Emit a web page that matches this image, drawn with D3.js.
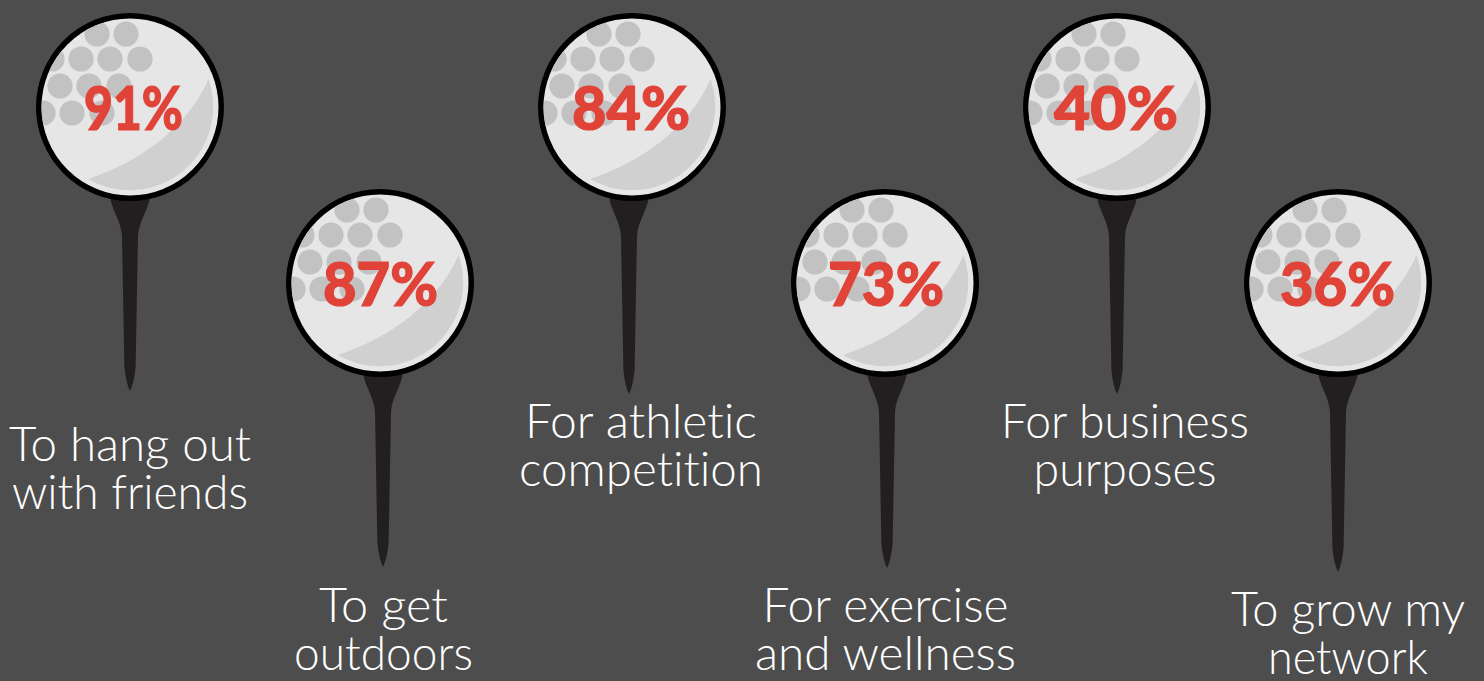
<!DOCTYPE html>
<html>
<head>
<meta charset="utf-8">
<script src="https://cdn.jsdelivr.net/npm/d3@7/dist/d3.min.js"></script>
<style>
  html, body { margin: 0; padding: 0; background: #4d4d4d; overflow: hidden; }
  svg { display: block; }
  text { font-variant-ligatures: none; }
</style>
</head>
<body>
<svg id="chart" width="1484" height="681"></svg>
<script>
// Reasons for playing golf, one tee per reason
const reasons = [
  "To hang out with friends", "To get outdoors", "For athletic competition",
  "For exercise and wellness", "For business purposes", "To grow my network"
];
const shares = [91, 87, 84, 73, 40, 36];
const labelLines = [
  ["To hang out", "with friends"],
  ["To get", "outdoors"],
  ["For athletic", "competition"],
  ["For exercise", "and wellness"],
  ["For business", "purposes"],
  ["To grow my", "network"]
];

// Placement scales, keyed by reason
const ballX = d3.scaleOrdinal().domain(reasons).range([130, 380, 632, 885, 1117, 1338]);
const ballY = d3.scaleOrdinal().domain(reasons).range([107, 283, 107, 283, 107, 283]);
const teeX = d3.scaleOrdinal().domain(reasons).range([130, 383, 629, 887, 1117, 1338]);
const tipY = d3.scaleOrdinal().domain(reasons).range([391, 567, 394, 568, 394, 572]);
const shareX = d3.scaleOrdinal().domain(reasons).range([133.5, 380.5, 631, 886, 1116, 1337.5]);
const shareWidth = d3.scaleOrdinal().domain(reasons).range([99, 115, 118, 116, 124, 115]);
const labelX = d3.scaleOrdinal().domain(reasons).range([130, 383.5, 641, 885.5, 1125, 1348]);
const labelY = d3.scaleOrdinal().domain(reasons).range([461, 622, 438, 622, 438, 626]);
const lineWidths = [[242, 236], [129, 179], [232, 244], [246, 261], [248, 183], [234, 160]];

const R = 94, strokeW = 5.5;
const dimples = [
  [-33,-73],[-4,-73],
  [-78,-48],[-49,-48],[-20,-48],[10,-48],
  [-70,-21],[-41,-21],[-11,-21],
  [-87,6],[-58,6],[-28,6]
];

const svg = d3.select("#chart");
svg.append("defs").selectAll("clipPath").data(reasons).join("clipPath")
  .attr("id", (d, i) => "ball-clip-" + i)
  .append("circle").attr("r", R - strokeW);

// Tee body: flared cup tapering into a long shaft
svg.selectAll("path.tee").data(reasons).join("path")
  .attr("class", "tee")
  .attr("fill", "#231f20")
  .attr("transform", d => `translate(${teeX(d)},${ballY(d)})`)
  .attr("d", d => {
    const tip = tipY(d) - ballY(d);
    return `M-19.5,88 Q-20,94 -18,98 C-13,112 -8.5,118 -8,130 L-5.6,${tip - 24} Q-4,${tip - 8} 0,${tip}
            Q4,${tip - 8} 5.6,${tip - 24} L8,130 C8.5,118 13,112 18,98 Q20,94 19.5,88 Z`;
  });

const ball = svg.selectAll("g.ball").data(reasons).join("g")
  .attr("class", "ball")
  .attr("transform", d => `translate(${ballX(d)},${ballY(d)})`);

ball.append("circle").attr("r", R - strokeW / 2)
  .attr("fill", "#e6e6e6").attr("stroke", "#000").attr("stroke-width", strokeW);

const inner = ball.append("g").attr("clip-path", (d, i) => `url(#ball-clip-${i})`);
inner.selectAll("circle").data(dimples).join("circle")
  .attr("cx", d => d[0]).attr("cy", d => d[1]).attr("r", 12.6)
  .attr("fill", "#c2c2c2");

// Shaded crescent along the lower right of the ball
ball.append("path")
  .attr("fill", "#d0d0d0")
  .attr("d", "M78.5,-28 A83.5,83.5 0 0 1 -42,72 C10,55 58,20 78.5,-28 Z");

svg.selectAll("text.share").data(reasons).join("text")
  .attr("class", "share")
  .attr("text-anchor", "middle")
  .attr("x", d => shareX(d))
  .attr("y", d => ballY(d) + 22.5)
  .attr("textLength", d => shareWidth(d))
  .attr("lengthAdjust", "spacingAndGlyphs")
  .attr("fill", "#e04338")
  .attr("stroke", "#e04338")
  .attr("stroke-width", 1.2)
  .attr("font-family", "Lato")
  .attr("font-weight", 900)
  .attr("font-size", 61)
  .text((d, i) => shares[i] + "%");

const labels = svg.selectAll("text.reason").data(reasons).join("text")
  .attr("class", "reason")
  .attr("text-anchor", "middle")
  .attr("fill", "#fff")
  .attr("font-family", "Lato")
  .attr("font-weight", 300)
  .attr("font-size", 47);

labels.selectAll("tspan").data((d, i) => labelLines[i].map((t, j) => ({ t, d, w: lineWidths[i][j] }))).join("tspan")
  .attr("x", o => labelX(o.d))
  .attr("y", (o, i) => labelY(o.d) + i * 48)
  .attr("textLength", o => o.w)
  .attr("lengthAdjust", "spacingAndGlyphs")
  .text(o => o.t);
</script>
</body>
</html>
